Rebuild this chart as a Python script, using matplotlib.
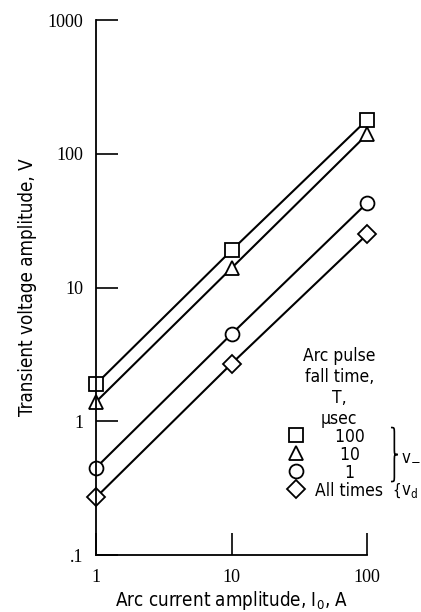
import matplotlib.pyplot as plt
from matplotlib.path import Path
from matplotlib.patches import PathPatch

current = [1, 10, 100]
v_100 = [1.9, 19, 180]
v_10 = [1.4, 14, 140]
v_1 = [0.45, 4.5, 43]
v_all = [0.27, 2.7, 25]

series = [(v_100, "s", "100"), (v_10, "^", "10"), (v_1, "o", "1"), (v_all, "D", "All times")]

sans = {"family": "DejaVu Sans", "stretch": "condensed"}
serif = ["Liberation Serif", "DejaVu Serif"]

fig = plt.figure(figsize=(4.21, 6.12), dpi=100)
ax = fig.add_axes([0.228, 0.093, 0.644, 0.874])

handles = []
for vals, mk, lab in series:
    ms = 9 if mk == "D" else 10
    (h,) = ax.plot(current, vals, color="black", lw=1.5, marker=mk, ms=ms,
                   mfc="white", mec="black", mew=1.3, label=lab, clip_on=False)
    handles.append(h)

ax.set_xscale("log")
ax.set_yscale("log")
ax.set_xlim(1, 100)
ax.set_ylim(0.1, 1000)

ax.spines["top"].set_visible(False)
ax.spines["right"].set_visible(False)
for s in ("left", "bottom"):
    ax.spines[s].set_linewidth(1.3)

ax.set_xticks([1, 10, 100])
ax.set_xticklabels(["1", "10", "100"])
ax.set_yticks([0.1, 1, 10, 100, 1000])
ax.set_yticklabels([".1", "1", "10", "100", "1000"])
ax.tick_params(which="major", direction="in", length=16, width=1.2)
ax.tick_params(axis="x", pad=10)
ax.tick_params(axis="y", pad=9)
ax.tick_params(which="minor", length=0)
for t in ax.get_xticklabels() + ax.get_yticklabels():
    t.set_family(serif)
    t.set_fontsize(13)

ax.set_xlabel("Arc current amplitude, $\\mathregular{I_0}$, A", fontsize=13.5, labelpad=2, **sans)
ax.set_ylabel("Transient voltage amplitude, V", fontsize=13.5, labelpad=8, **sans)

leg_labels = ["    100", "     10", "      1", "All times"]
leg = ax.legend(handles, leg_labels, loc="upper left", bbox_to_anchor=(0.705, 0.405),
                frameon=False, handlelength=0, handletextpad=1.1, labelspacing=0.0,
                title="Arc pulse\nfall time,\nT,\nμsec", borderpad=0,
                prop={"size": 12.5, **sans}, title_fontproperties={"size": 12.5, **sans})
leg._legend_box.align = "center"
leg.get_title().set_multialignment("center")
leg.set_clip_on(False)

# braces next to the legend rows
fig.canvas.draw()
inv = ax.transAxes.inverted()
rows = [inv.transform(t.get_window_extent().get_points()) for t in leg.get_texts()]
top = rows[0][1][1]
bot = rows[2][0][1]
mid = 0.5 * (top + bot)
yd = 0.5 * (rows[3][0][1] + rows[3][1][1])

x0, w = 1.088, 0.025
xm = x0 + w / 2
k = 0.12 * (top - bot)
verts = [(x0, top), (xm, top), (xm, top), (xm, top - k),
         (xm, mid + k),
         (xm, mid), (xm, mid), (x0 + w, mid),
         (xm, mid), (xm, mid), (xm, mid - k),
         (xm, bot + k),
         (xm, bot), (xm, bot), (x0, bot)]
codes = [Path.MOVETO, Path.CURVE4, Path.CURVE4, Path.CURVE4,
         Path.LINETO,
         Path.CURVE4, Path.CURVE4, Path.CURVE4,
         Path.CURVE4, Path.CURVE4, Path.CURVE4,
         Path.LINETO,
         Path.CURVE4, Path.CURVE4, Path.CURVE4]
ax.add_patch(PathPatch(Path(verts, codes), transform=ax.transAxes, fill=False,
                       lw=1.2, ec="black", clip_on=False))

ax.text(1.124, mid, "v$_{-}$", transform=ax.transAxes, fontsize=12, ha="left",
        va="center", clip_on=False, **sans)
ax.text(1.094, yd, "{", transform=ax.transAxes, fontsize=11, ha="left", va="center",
        clip_on=False, family="DejaVu Sans", fontstretch="condensed")
ax.text(1.124, yd, "v$_{\\mathregular{d}}$", transform=ax.transAxes, fontsize=12,
        ha="left", va="center", clip_on=False, **sans)

fig.savefig("out.png", dpi=100)
